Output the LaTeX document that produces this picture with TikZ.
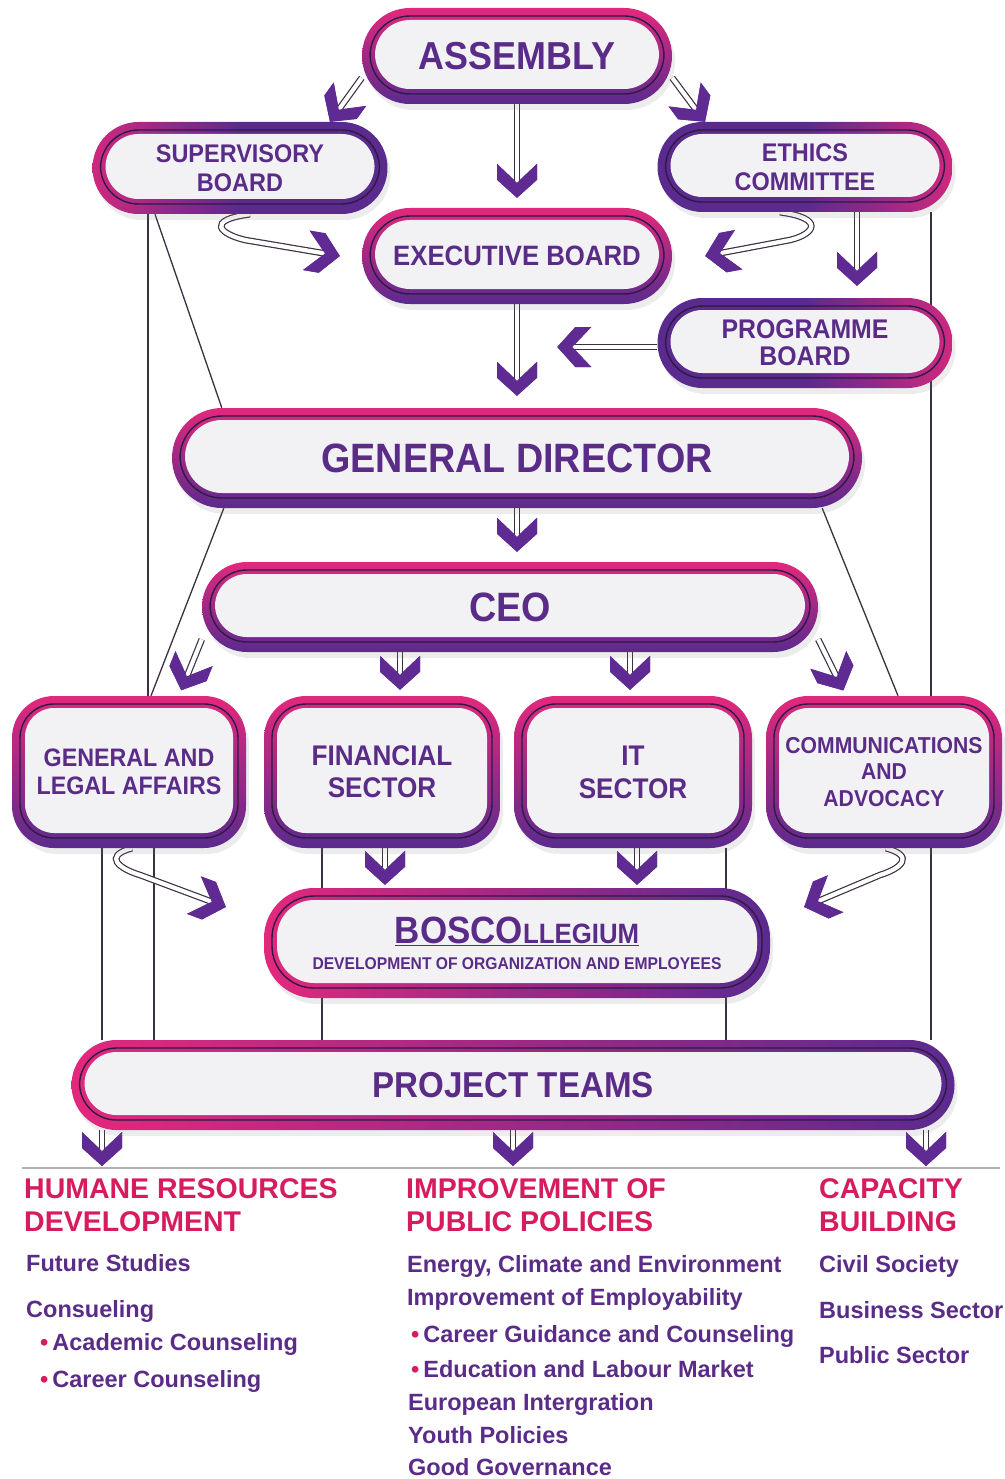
\documentclass[tikz,border=0pt]{standalone}
\usepackage{fontspec}
\setmainfont{Liberation Sans}
\newfontfamily\boxfont[FakeStretch=0.92]{Liberation Sans}
\usetikzlibrary{arrows.meta,shadows,backgrounds}

\definecolor{pinkc}{HTML}{E3287C}
\definecolor{purplec}{HTML}{5B2A8E}
\definecolor{rimc}{HTML}{2E1A45}
\definecolor{innerc}{HTML}{F2F2F5}
\definecolor{labelc}{HTML}{5A2C88}
\definecolor{headc}{HTML}{D61C5E}
\definecolor{shaftc}{HTML}{3A3040}
\definecolor{tipc}{HTML}{5F2B93}

% thick chevron head used on all flow arrows
\pgfdeclarearrow{
  name = Chevron,
  setup code = {
    \pgfarrowssettipend{0pt}
    \pgfarrowssetlineend{-15pt}
    \pgfarrowssetbackend{-34pt}
    \pgfarrowssetvisualbackend{-34pt}
    \pgfarrowshullpoint{0pt}{0pt}
    \pgfarrowshullpoint{-34pt}{20pt}
    \pgfarrowshullpoint{-34pt}{-20pt}
  },
  drawing code = {
    \pgfsetfillcolor{tipc}
    \pgfpathmoveto{\pgfpointorigin}
    \pgfpathlineto{\pgfpoint{-18pt}{20pt}}
    \pgfpathlineto{\pgfpoint{-34pt}{20pt}}
    \pgfpathlineto{\pgfpoint{-15pt}{0pt}}
    \pgfpathlineto{\pgfpoint{-34pt}{-20pt}}
    \pgfpathlineto{\pgfpoint{-18pt}{-20pt}}
    \pgfpathclose
    \pgfusepathqfill
  }
}

\newcommand{\listdot}{{\color{headc}\textbullet}\hspace{4pt}}

\begin{document}
\begin{tikzpicture}[x=1pt, y=-1pt,
   box_style/.style={rectangle, rounded corners=#1, inner sep=0pt, align=center, text=labelc,
      drop shadow={shadow xshift=3pt, shadow yshift=-6pt, opacity=0.15},
      path picture={
        \draw[rimc, line width=1.4pt, rounded corners=#1-8pt]
          ([shift={(8pt,-8pt)}]path picture bounding box.north west) rectangle
          ([shift={(-8pt,10pt)}]path picture bounding box.south east);
        \fill[innerc, rounded corners=#1-13pt]
          ([shift={(13pt,-12pt)}]path picture bounding box.north west) rectangle
          ([shift={(-13pt,15pt)}]path picture bounding box.south east);}},
   pill_v/.style={box_style=#1, top color=pinkc, bottom color=purplec},
   pill_h/.style={box_style=#1, left color=pinkc, right color=purplec},
   pill_l/.style={box_style=#1, left color=pinkc!85!purplec, right color=purplec, middle color=purplec},
   pill_r/.style={box_style=#1, left color=purplec, right color=pinkc!85!purplec, middle color=purplec},
   flow/.style={draw=shaftc, line width=6.6pt, -Chevron,
      postaction={draw=white, line width=4.2pt}},
   plain_line/.style={draw=shaftc, line width=1.3pt},
   head_style/.style={anchor=base west, inner sep=0pt, text=headc,
      font=\bfseries\fontsize{28.5}{33}\selectfont},
   item_style/.style={anchor=base west, inner sep=0pt, text=labelc,
      font=\bfseries\fontsize{23.5}{27}\selectfont}]

   \useasboundingbox (0,0) rectangle (1004,1479);

   % top level
   \node[pill_v=48pt, minimum width=310pt, minimum height=96pt,
      font=\boxfont\bfseries\fontsize{39}{42}\selectfont] (asm) at (517,56) {ASSEMBLY};
   \node[pill_l=46pt, minimum width=295pt, minimum height=92pt,
      font=\boxfont\bfseries\fontsize{25.5}{29}\selectfont] (sup) at (240,168) {SUPERVISORY\\BOARD};
   \node[pill_r=45pt, minimum width=295pt, minimum height=90pt,
      font=\boxfont\bfseries\fontsize{25.5}{29}\selectfont] (eth) at (805,167) {ETHICS\\COMMITTEE};
   \node[pill_v=48pt, minimum width=310pt, minimum height=96pt,
      font=\boxfont\bfseries\fontsize{28}{31}\selectfont] (exe) at (517,256) {EXECUTIVE BOARD};
   \node[pill_r=45pt, minimum width=295pt, minimum height=90pt,
      font=\boxfont\bfseries\fontsize{27}{27}\selectfont] (prog) at (805,343) {PROGRAMME\\BOARD};

   % management
   \node[pill_v=50pt, minimum width=690pt, minimum height=100pt,
      font=\boxfont\bfseries\fontsize{41}{44}\selectfont] (gd) at (517,458) {GENERAL DIRECTOR};
   \node[pill_v=45pt, minimum width=616pt, minimum height=90pt,
      font=\boxfont\bfseries\fontsize{41}{44}\selectfont] (ceo) at (510,607) {CEO};

   % sectors
   \node[pill_v=42pt, minimum width=234pt, minimum height=152pt,
      font=\boxfont\bfseries\fontsize{25.3}{28}\selectfont] (gla) at (129,772) {GENERAL AND\\LEGAL AFFAIRS};
   \node[pill_v=42pt, minimum width=236pt, minimum height=152pt,
      font=\boxfont\bfseries\fontsize{28.4}{32}\selectfont] (fin) at (382,772) {FINANCIAL\\SECTOR};
   \node[pill_v=42pt, minimum width=238pt, minimum height=152pt,
      font=\boxfont\bfseries\fontsize{28.4}{33}\selectfont] (it) at (633,772) {IT\\SECTOR};
   \node[pill_v=42pt, minimum width=236pt, minimum height=152pt,
      font=\boxfont\bfseries\fontsize{23}{26.5}\selectfont] (comm) at (884,772) {COMMUNICATIONS\\AND\\ADVOCACY};

   \node[pill_h=50pt, minimum width=506pt, minimum height=110pt,
      font=\boxfont\bfseries\fontsize{17}{26}\selectfont] (bosco) at (517,943)
      {\underline{{\fontsize{38}{40}\selectfont BOSCO}{\fontsize{28}{30}\selectfont LLEGIUM}}\\
       DEVELOPMENT OF ORGANIZATION AND EMPLOYEES};
   \node[pill_h=45pt, minimum width=883pt, minimum height=90pt,
      font=\boxfont\bfseries\fontsize{36}{40}\selectfont] (pt) at (513,1085) {PROJECT TEAMS};

   \coordinate (hrd) at (102,1166);
   \coordinate (ipp) at (513,1166);
   \coordinate (cap) at (926,1166);

   \begin{pgfonlayer}{background}
      % thin links
      \draw[plain_line] ([xshift=-92pt]sup.south) -- ([xshift=19pt]gla.north);
      \draw[plain_line] ([xshift=-85pt]sup.south) -- ([xshift=50pt]gd.north west);
      \draw[plain_line] ([xshift=52pt]gd.south west) -- ([xshift=22pt]gla.north);
      \draw[plain_line] ([xshift=-40pt]gd.south east) -- ([xshift=14pt]comm.north);
      \draw[plain_line] ([xshift=126pt]eth.south) -- ([xshift=126pt]eth.south |- pt.north);
      \draw[plain_line] ([xshift=-27pt]gla.south) -- ([xshift=-27pt]gla.south |- pt.north);
      \draw[plain_line] ([xshift=25pt]gla.south) -- ([xshift=25pt]gla.south |- pt.north);
      \draw[plain_line] ([xshift=-60pt]fin.south) -- ([xshift=-60pt]fin.south |- pt.north);
      \draw[plain_line] ([xshift=93pt]it.south) -- ([xshift=93pt]it.south |- pt.north);

      % arrows
      \draw[flow] (asm.188) -- ([xshift=90pt]sup.north);
      \draw[flow] (asm.-8) -- ([xshift=-100pt]eth.north);
      \draw[flow, shorten >=10pt] (asm.south) -- (exe.north);
      \draw[flow] ([xshift=10pt]sup.south) .. controls +(-45,6) and +(-25,-6) .. (245,240)
         -- ([xshift=-22pt]exe.west);
      \draw[flow] ([xshift=-25pt]eth.south) .. controls +(45,6) and +(25,-6) .. (790,240)
         -- ([xshift=33pt]exe.east);
      \draw[flow, shorten >=12pt] ([xshift=52pt]eth.south) -- ([xshift=52pt]prog.north);
      \draw[flow] ([yshift=-4pt]prog.west) -- ++(-100,0);
      \draw[flow, shorten >=12pt] (exe.south) -- (gd.north);
      \draw[flow, shorten >=10pt] (gd.south) -- (gd.south |- ceo.north);
      \draw[flow, shorten >=6pt] (ceo.186) -- ([xshift=50pt]gla.north);
      \draw[flow, shorten >=6pt] (ceo.-6) -- ([xshift=-38pt]comm.north);
      \draw[flow, shorten >=6pt] ([xshift=18pt]fin.north |- ceo.south) -- ([xshift=18pt]fin.north);
      \draw[flow, shorten >=6pt] ([xshift=-3pt]it.north |- ceo.south) -- ([xshift=-3pt]it.north);
      \draw[flow] ([xshift=3pt]gla.south) .. controls +(-30,8) and +(-20,-6) .. (140,875)
         -- ([shift={(-38pt,36pt)}]bosco.west);
      \draw[flow] ([xshift=2pt]comm.south) .. controls +(30,8) and +(20,-6) .. (880,875)
         -- ([shift={(34pt,36pt)}]bosco.east);
      \draw[flow, shorten >=3pt] ([xshift=3pt]fin.south) -- ([xshift=3pt]fin.south |- bosco.north);
      \draw[flow, shorten >=3pt] ([xshift=4pt]it.south) -- ([xshift=4pt]it.south |- bosco.north);
      \draw[flow] (pt.south -| hrd) -- (hrd);
      \draw[flow] (pt.south -| ipp) -- (ipp);
      \draw[flow] (pt.south -| cap) -- (cap);
   \end{pgfonlayer}

   \draw[gray!60, line width=1.2pt] (22,1168) -- (1000,1168);

   % fields of work
   \node[head_style] (hrd1) at (24,1198) {HUMANE RESOURCES};
   \node[head_style] (hrd2) at (24,1231) {DEVELOPMENT};
   \node[item_style] (fs) at (26,1271) {Future Studies};
   \node[item_style] (cons) at (26,1317) {Consueling};
   \node[item_style] (acad) at (40,1350) {\listdot Academic Counseling};
   \node[item_style] (car) at (40,1387) {\listdot Career Counseling};

   \node[head_style] (ipp1) at (406,1198) {IMPROVEMENT OF};
   \node[head_style] (ipp2) at (406,1231) {PUBLIC POLICIES};
   \node[item_style] (ece) at (407,1272) {Energy, Climate and Environment};
   \node[item_style] (emp) at (407,1305) {Improvement of Employability};
   \node[item_style] (cgc) at (411,1342) {\listdot Career Guidance and Counseling};
   \node[item_style] (elm) at (411,1377) {\listdot Education and Labour Market};
   \node[item_style] (eui) at (408,1410) {European Intergration};
   \node[item_style] (yp) at (408,1443) {Youth Policies};
   \node[item_style] (gg) at (408,1475) {Good Governance};

   \node[head_style] (cap1) at (819,1198) {CAPACITY};
   \node[head_style] (cap2) at (819,1231) {BUILDING};
   \node[item_style] (cs) at (819,1272) {Civil Society};
   \node[item_style] (bs) at (819,1318) {Business Sector};
   \node[item_style] (ps) at (819,1363) {Public Sector};
\end{tikzpicture}
\end{document}
